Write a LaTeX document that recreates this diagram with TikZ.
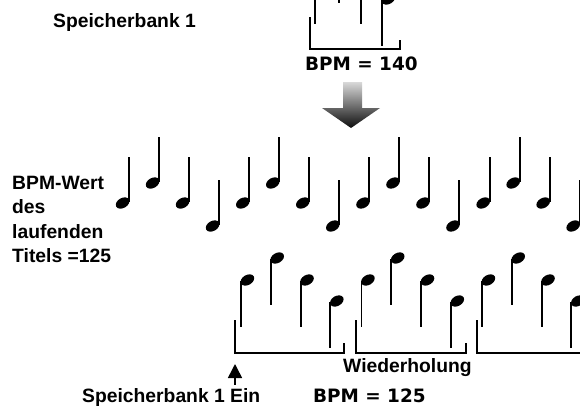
\documentclass[tikz,border=0pt]{standalone}
\usepackage{fontspec}
\setmainfont{Liberation Sans}
\newfontfamily\bpmfont{DejaVu Sans Bold}
\usepackage{tikz}
\usetikzlibrary{positioning,arrows.meta,calc}

\begin{document}
\begin{tikzpicture}[
    x=1pt, y=-1pt,
    every node/.style={font=\fontsize{19.3}{24.3}\selectfont\bfseries, inner sep=0pt},
    bpm/.style={font=\fontsize{18.4}{20}\selectfont\bpmfont},
    stem/.style={line width=1.9pt},
    brk/.style={line width=1.5pt},
    tip/.style={-{Triangle[width=14pt,length=14pt]}, line width=1.6pt, shorten <=3pt},
    upnote/.pic={
        \fill[shift={(-6.4,0)}, rotate=30] (0,0) ellipse [x radius=7.3, y radius=5];
        \draw[stem] (0,-1) -- (0,-46);
    },
    downnote/.pic={
        \fill[shift={(6.4,0)}, rotate=30] (0,0) ellipse [x radius=7.3, y radius=5];
        \draw[stem] (0,1) -- (0,47);
    },
]
    \useasboundingbox (0,0) rectangle (580,410);
    \clip (0,0) rectangle (580,410);

    \node[anchor=base west] (bank) at (53,27) {Speicherbank 1};
    \foreach \sx/\hy in {315/-23, 339/-44, 361/-23, 382/-1}
        \pic at (\sx,\hy) {downnote};
    \draw[brk] (310,17) -- (310,49) -- (400,49) -- (400,40);
    \node[bpm, anchor=base west] (bpmtop) at (305,70) {BPM = 140};

    \shade[top color=black!15, bottom color=black!95]
        (343,82) -- (362,82) -- (362,108) -- (380,108) -- (351,128)
        -- (322,108) -- (343,108) -- cycle;

    \node[anchor=north west, align=left] (wert) at (12,176)
        {BPM-Wert\\des\\laufenden\\Titels =125};
    \foreach \g in {0,1,2,3}
        \foreach \i/\hy in {0/203, 1/183, 2/203, 3/226}
            \pic at ({129+120.2*\g+30*\i},\hy) {upnote};

    \foreach \g in {0,1,2}
        \foreach \i/\hy in {0/280, 1/258, 2/280, 3/301}
            \pic at ({241+120.5*\g+29.8*\i},\hy) {downnote};
    \foreach \g in {0,1,2}
        \draw[brk] ({235+121*\g},320) -- ({235+121*\g},353)
            -- ({344+122*\g},353) -- ({344+122*\g},343);

    \node[anchor=base west] (wdh) at (343,372) {Wiederholung};
    \node[bpm, anchor=base west] (bpmlow) at (313,402) {BPM = 125};
    \node[anchor=base west] (ein) at (82,402) {Speicherbank 1 Ein};
    \coordinate (bankin) at (235,364);
    \draw[tip] (ein.north -| bankin) -- (bankin);
\end{tikzpicture}
\end{document}
